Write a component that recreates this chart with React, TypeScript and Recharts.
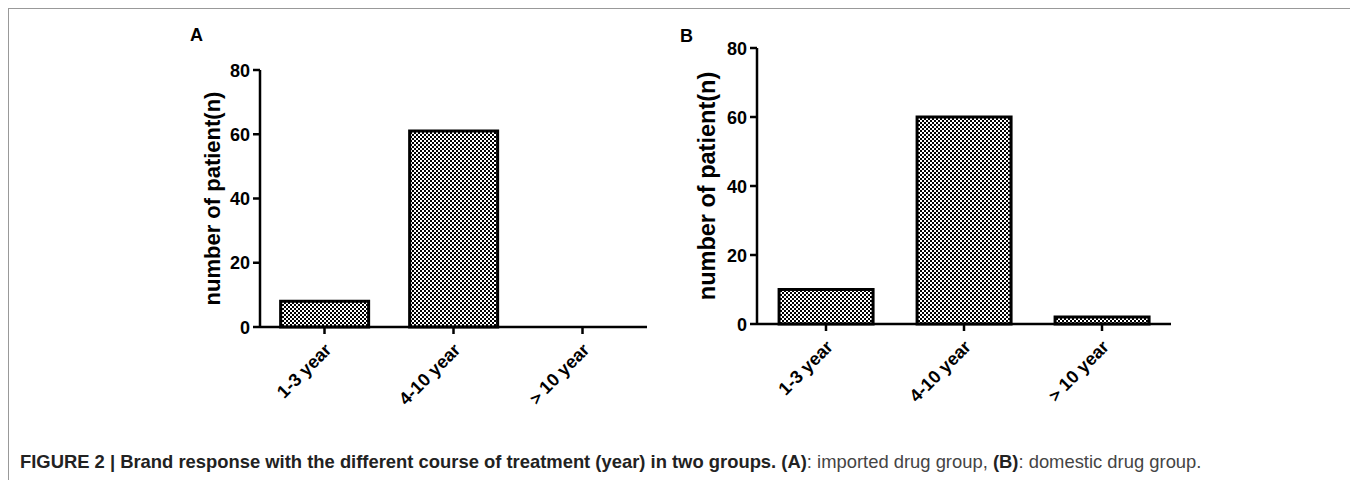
import { Bar, BarChart, XAxis, YAxis } from "recharts";

const categories = ["1-3 year", "4-10 year", "＞10 year"];
const importedCounts = [8, 61, 0];
const domesticCounts = [10, 60, 2];
const yTicks = [0, 20, 40, 60, 80];

const importedData = categories.map((name, i) => ({ name, n: importedCounts[i] }));
const domesticData = categories.map((name, i) => ({ name, n: domesticCounts[i] }));

const AXIS_FONT = "Arial, 'Liberation Sans', sans-serif";

function XTick(props: any) {
  const { x, y, payload } = props;
  return (
    <g transform={`translate(${x + 8},${y + 15})`}>
      <text
        transform="rotate(-45)"
        textAnchor="end"
        fontFamily={AXIS_FONT}
        fontWeight="bold"
        fontSize={18}
        fill="#000"
      >
        {payload.value}
      </text>
    </g>
  );
}

function YTick(props: any) {
  const { x, y, payload } = props;
  return (
    <text
      x={x}
      y={y}
      dy={6.5}
      textAnchor="end"
      fontFamily={AXIS_FONT}
      fontWeight="bold"
      fontSize={18}
      fill="#000"
    >
      {payload.value}
    </text>
  );
}

function yLabel(offset: number, size: number) {
  return (props: any) => {
    const { x, y, height } = props.viewBox;
    const cx = x + offset;
    const cy = y + height / 2;
    return (
      <text
        x={cx}
        y={cy}
        transform={`rotate(-90 ${cx} ${cy})`}
        textAnchor="middle"
        dominantBaseline="central"
        fontFamily={AXIS_FONT}
        fontWeight="bold"
        fontSize={size}
        fill="#000"
      >
        number of patient(n)
      </text>
    );
  };
}

interface PanelProps {
  id: string;
  data: { name: string; n: number }[];
  width: number;
  height: number;
  top: number;
  yWidth: number;
  labelOffset: number;
  labelSize: number;
}

function Panel({ id, data, width, height, top, yWidth, labelOffset, labelSize }: PanelProps) {
  return (
    <BarChart
      width={width}
      height={height}
      data={data}
      margin={{ top, right: 13, bottom: 13, left: 0 }}
      barCategoryGap="16%"
    >
      <defs>
        <pattern id={id} width={4} height={4} patternUnits="userSpaceOnUse">
          <rect width={4} height={4} fill="#fff" />
          <rect width={2} height={2} fill="#000" />
          <rect x={2} y={2} width={2} height={2} fill="#000" />
        </pattern>
      </defs>
      <XAxis
        dataKey="name"
        height={80}
        interval={0}
        tick={<XTick />}
        tickSize={7}
        axisLine={{ stroke: "#000", strokeWidth: 2.5 }}
        tickLine={{ stroke: "#000", strokeWidth: 2.5 }}
      />
      <YAxis
        width={yWidth}
        domain={[0, 80]}
        ticks={yTicks}
        interval={0}
        tick={<YTick />}
        tickSize={7}
        tickMargin={3}
        axisLine={{ stroke: "#000", strokeWidth: 2.5 }}
        tickLine={{ stroke: "#000", strokeWidth: 2.5 }}
        label={{ content: yLabel(labelOffset, labelSize) }}
      />
      <Bar
        dataKey="n"
        fill={`url(#${id})`}
        stroke="#000"
        strokeWidth={3}
        isAnimationActive={false}
      />
    </BarChart>
  );
}

export default function App() {
  return (
    <div
      style={{
        position: "relative",
        width: 1358,
        height: 488,
        margin: -8,
        background: "#fff",
        overflow: "hidden",
      }}
    >
      <div
        style={{
          position: "absolute",
          left: 8,
          top: 8,
          width: 1347,
          height: 500,
          border: "1px solid #999",
        }}
      />
      <div
        style={{
          position: "absolute",
          left: 190,
          top: 25,
          fontFamily: AXIS_FONT,
          fontWeight: "bold",
          fontSize: 18,
        }}
      >
        A
      </div>
      <div
        style={{
          position: "absolute",
          left: 680,
          top: 26,
          fontFamily: AXIS_FONT,
          fontWeight: "bold",
          fontSize: 18,
        }}
      >
        B
      </div>
      <div style={{ position: "absolute", left: 150, top: 20 }}>
        <Panel
          id="checkA"
          data={importedData}
          width={510}
          height={400}
          top={50}
          yWidth={110}
          labelOffset={62}
          labelSize={22}
        />
      </div>
      <div style={{ position: "absolute", left: 640, top: 10 }}>
        <Panel
          id="checkB"
          data={domesticData}
          width={544}
          height={407}
          top={38}
          yWidth={117}
          labelOffset={67}
          labelSize={23.5}
        />
      </div>
      <div
        style={{
          position: "absolute",
          left: 20,
          top: 451,
          fontFamily: AXIS_FONT,
          fontSize: 18.4,
          color: "#444",
          whiteSpace: "nowrap",
        }}
      >
        <b style={{ color: "#222" }}>
          FIGURE 2 | Brand response with the different course of treatment (year) in two groups. (A)
        </b>
        : imported drug group, <b style={{ color: "#222" }}>(B)</b>: domestic drug group.
      </div>
    </div>
  );
}
